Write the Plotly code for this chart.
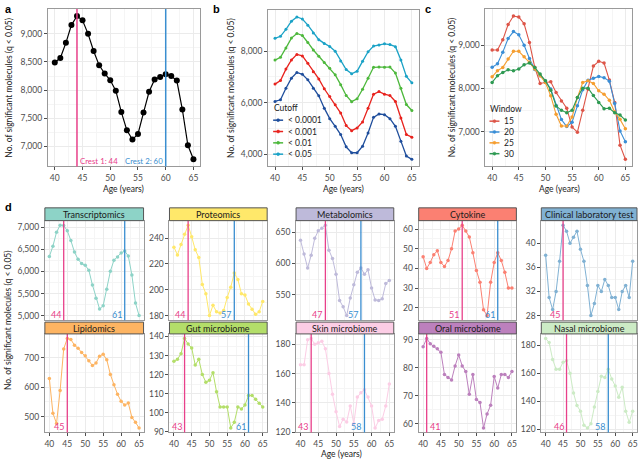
import plotly.graph_objects as go

W, H = 640, 464
FONT = "Lato"

AGES = list(range(40, 66))

# Panel a (q < 0.05, window 20)
SIG_Q005 = [8490, 8570, 8840, 9155, 9316, 9240, 9000, 8695, 8440, 8295, 8175, 7990, 7610,
            7285, 7120, 7220, 7600, 7970, 8190, 8235, 8280, 8250, 8170, 7655, 7020, 6770]
CRESTS_A = [44, 60]
CREST_LABELS_A = ["Crest 1: 44", "Crest 2: 60"]

# Panel b
CUTOFF_LABELS = ["< 0.0001", "< 0.001", "< 0.01", "< 0.05"]
CUT_00001 = [6050, 6115, 6560, 6950, 7170, 7100, 6885, 6565, 6270, 5790, 5385, 5090, 4770,
             4295, 4065, 4065, 4320, 4830, 5435, 5565, 5540, 5385, 5090, 4515, 3940, 3810]
CUT_0001 = [6720, 6860, 7300, 7655, 7870, 7810, 7525, 7200, 6920, 6540, 6240, 5920, 5600,
            5115, 4920, 5025, 5255, 5790, 6330, 6430, 6330, 6280, 6050, 5410, 4770, 4670]
CUT_001 = [7650, 7760, 8120, 8500, 8680, 8600, 8330, 8040, 7800, 7560, 7330, 7080, 6700,
           6280, 6040, 6150, 6520, 6950, 7370, 7380, 7370, 7380, 7150, 6560, 5930, 5700]
CUT_005 = SIG_Q005

# Panel c
WINDOW_LABELS = ["15", "20", "25", "30"]
WIN15 = [8890, 8890, 9124, 9480, 9674, 9650, 9496, 9062, 8490, 8116, 8140, 8155, 7907,
         7713, 7543, 7109, 6992, 7496, 7984, 8519, 8628, 8589, 8194, 7674, 6690, 6364]
WIN20 = SIG_Q005
WIN25 = [8271, 8411, 8488, 8682, 8860, 8860, 8736, 8605, 8450, 8295, 8140, 7830, 7403,
         7132, 7132, 7341, 7791, 8140, 8178, 8116, 7946, 7868, 7729, 7457, 7287, 7070]
WIN30 = [8140, 8295, 8372, 8434, 8411, 8450, 8550, 8589, 8488, 8333, 8178, 7961, 7597,
         7496, 7442, 7496, 7791, 8008, 8008, 7837, 7674, 7535, 7543, 7442, 7388, 7271]

# Panel d
OMICS = ["Transcriptomics", "Proteomics", "Metabolomics", "Cytokine", "Clinical laboratory test",
         "Lipidomics", "Gut microbiome", "Skin microbiome", "Oral microbiome", "Nasal microbiome"]
TRANSCRIPTOMICS = [6340, 6575, 6890, 7050, 7040, 6925, 6700, 6440, 6275, 6180, 6140, 6030, 5695,
                   5395, 5150, 5225, 5600, 6005, 6255, 6330, 6420, 6465, 6350, 5920, 5285, 5000]
PROTEOMICS = [233, 227, 235, 243, 250, 241, 231, 225, 204, 197, 180, 188, 183,
              182, 184, 194, 202, 213, 208, 197, 196, 189, 185, 181, 183, 191]
METABOLOMICS = [637, 615, 593, 613, 640, 652, 656, 661, 621, 608, 583, 541, 531,
                517, 545, 566, 586, 593, 583, 590, 561, 542, 541, 544, 568, 573]
CYTOKINE = [46, 40, 43, 47, 49, 43, 41, 44, 50, 59, 60, 62, 59,
            56, 48, 39, 33, 19, 16, 33, 43, 48, 44, 38, 30, 30]
CLINICAL = [38, 31, 29, 32, 37, 43, 42, 40, 41, 42, 39, 37, 33,
            28, 30, 33, 32, 34, 33, 31, 31, 29, 32, 33, 31, 37]
LIPIDOMICS = [630, 511, 476, 589, 731, 767, 763, 744, 733, 719, 708, 691, 674,
              683, 706, 713, 694, 644, 609, 576, 552, 539, 546, 497, 480, 461]
GUT = [127, 128, 131, 139, 136, 134, 125, 128, 120, 116, 117, 121, 111,
       103, 103, 103, 92, 95, 103, 102, 104, 109, 109, 107, 105, 103]
SKIN = [166, 166, 183, 184, 180, 181, 182, 177, 160, 146, 134, 124, 129,
        127, 138, 126, 144, 147, 149, 144, 138, 123, 128, 129, 138, 153]
ORAL = [87.5, 90.5, 88.6, 87.7, 86.8, 85.6, 77.6, 76.6, 75.7, 80.7, 84.6, 80.7, 78.7,
        70.6, 77.6, 68.7, 67.7, 58.6, 63.6, 66.7, 76.9, 72.8, 77.6, 77.6, 76.6, 78.7]
NASAL = [185, 182, 170, 163, 163, 168, 169, 160, 146, 137, 133, 123, 121,
         124, 136, 147, 158, 157, 163, 156, 151, 143, 150, 133, 125, 133]
OMICS_VALUES = [TRANSCRIPTOMICS, PROTEOMICS, METABOLOMICS, CYTOKINE, CLINICAL,
                LIPIDOMICS, GUT, SKIN, ORAL, NASAL]
CREST1_D = [44, 44, 47, 51, 45, 45, 43, 43, 41, 46]
CREST2_D = [61, 57, 57, 61, None, None, 61, 58, None, 58]
YTICKS_D = [[5000, 5500, 6000, 6500, 7000], [180, 200, 220, 240], [550, 600, 650],
            [20, 30, 40, 50, 60], [28, 32, 36, 40], [500, 600, 700],
            [90, 100, 110, 120, 130, 140], [120, 140, 160, 180], [60, 70, 80, 90],
            [120, 140, 160, 180]]
X_TICKS = [40, 45, 50, 55, 60, 65]

# ---------------- styles ----------------
OMICS_COLORS = ["#8DD3C7", "#FFE86A", "#BEBADA", "#FB8072", "#80B1D3",
                "#FDB462", "#B3DE69", "#FCCDE5", "#BC80BD", "#CCEBC5"]
CREST1_ANCHOR = ["right"] * 8 + ["left", "right"]
CUT_COLORS = ["#1F4E9C", "#E8231E", "#4DB83C", "#1BA2C6"]
WIN_COLORS = ["#DD5548", "#3A8ED6", "#F59E30", "#2E9A52"]
PINK = "#E8408A"
BLUE = "#3A8ED0"
TICK_COL = "#4D4D4D"
FRAME_COL = "#9A9A9A"
GRID_COL = "#EBEBEB"
YTITLE = "No. of significant molecules (q < 0.05)"


def px_x(p):
    return p / W


def px_y(p):
    return 1 - p / H


def expand(vals, frac=0.05):
    lo, hi = min(vals), max(vals)
    pad = (hi - lo) * frac
    return [lo - pad, hi + pad]


def mids(ticks):
    return [(a + b) / 2 for a, b in zip(ticks[:-1], ticks[1:])]


fig = go.Figure()
layout = {}
shapes = []
annotations = []


def sfx(n):
    return "" if n == 1 else str(n)


def add_axes(n, xpx, ypx, yvals, yticks, yfmt, show_x=True, fsize=8):
    s = sfx(n)
    layout["xaxis" + s] = dict(
        domain=[px_x(xpx[0]), px_x(xpx[1])], anchor="y" + s, range=expand(AGES),
        tickmode="array", tickvals=X_TICKS, showticklabels=show_x,
        ticks="outside" if show_x else "", ticklen=3, tickwidth=0.8, tickcolor=TICK_COL,
        tickfont=dict(size=fsize, color=TICK_COL, family=FONT),
        showline=True, mirror=True, linecolor=FRAME_COL, linewidth=1,
        showgrid=True, gridcolor=GRID_COL, gridwidth=0.8, zeroline=False,
        minor=dict(tickvals=mids(X_TICKS), showgrid=True, gridcolor="#F5F5F5", gridwidth=0.5),
    )
    layout["yaxis" + s] = dict(
        domain=[px_y(ypx[1]), px_y(ypx[0])], anchor="x" + s, range=expand(yvals),
        tickmode="array", tickvals=yticks, tickformat=yfmt,
        ticks="outside", ticklen=3, tickwidth=0.8, tickcolor=TICK_COL,
        tickfont=dict(size=fsize, color=TICK_COL, family=FONT),
        showline=True, mirror=True, linecolor=FRAME_COL, linewidth=1,
        showgrid=True, gridcolor=GRID_COL, gridwidth=0.8, zeroline=False,
        minor=dict(tickvals=mids(yticks), showgrid=True, gridcolor="#F5F5F5", gridwidth=0.5),
    )


def crest_line(n, x, color, width=1.5):
    s = sfx(n)
    shapes.append(dict(type="line", xref="x" + s, yref="y" + s + " domain",
                       x0=x, x1=x, y0=0, y1=1, layer="above",
                       line=dict(color=color, width=width)))


def crest_text(n, x, text, color, anchor, size=8):
    s = sfx(n)
    annotations.append(dict(x=x, y=0, xref="x" + s, yref="y" + s + " domain",
                            text=text, showarrow=False, xanchor=anchor, yanchor="bottom",
                            xshift=-1 if anchor == "right" else 1, yshift=-2,
                            font=dict(size=size, color=color, family=FONT)))


# ---------------- panel a ----------------
add_axes(1, (47, 200), (7, 167), SIG_Q005, [7000, 7500, 8000, 8500, 9000], ",d", fsize=8.5)
for c, lab, col, anc in zip(CRESTS_A, CREST_LABELS_A, [PINK, BLUE], ["left", "right"]):
    crest_line(1, c, col)
    crest_text(1, c, lab, col, anc, size=7.8)
fig.add_trace(go.Scatter(x=AGES, y=SIG_Q005, mode="lines+markers", xaxis="x", yaxis="y",
                         line=dict(color="black", width=1.2),
                         marker=dict(color="black", size=6), showlegend=False))

# ---------------- panel b ----------------
add_axes(2, (268, 419), (8, 167), CUT_00001 + CUT_005, [4000, 6000, 8000], ",d", fsize=8.5)
for vals, col, lab in zip([CUT_00001, CUT_0001, CUT_001, CUT_005], CUT_COLORS, CUTOFF_LABELS):
    fig.add_trace(go.Scatter(x=AGES, y=vals, mode="lines+markers", xaxis="x2", yaxis="y2",
                             line=dict(color=col, width=1.3), marker=dict(color=col, size=3),
                             name=lab, showlegend=False))

# ---------------- panel c ----------------
add_axes(3, (486, 633), (7, 167), WIN15 + WIN30, [7000, 8000, 9000], ",d", fsize=8.5)
for vals, col, lab in zip([WIN15, WIN20, WIN25, WIN30], WIN_COLORS, WINDOW_LABELS):
    fig.add_trace(go.Scatter(x=AGES, y=vals, mode="lines+markers", xaxis="x3", yaxis="y3",
                             line=dict(color=col, width=1.1), marker=dict(color=col, size=3.5),
                             name=lab, showlegend=False))


# manual compact legends (panel b and c)
def legend_block(x0, y_title, dy, title, labels, colors):
    annotations.append(dict(x=px_x(x0), y=px_y(y_title), xref="paper", yref="paper",
                            text=title, showarrow=False, xanchor="left", yanchor="middle",
                            font=dict(size=8.5, color="#222", family=FONT)))
    for i, (lab, col) in enumerate(zip(labels, colors)):
        yc = y_title + 12 + i * dy
        shapes.append(dict(type="line", xref="paper", yref="paper",
                           x0=px_x(x0 + 1), x1=px_x(x0 + 11), y0=px_y(yc), y1=px_y(yc),
                           line=dict(color=col, width=1.5)))
        shapes.append(dict(type="circle", xref="paper", yref="paper",
                           x0=px_x(x0 + 4.5), x1=px_x(x0 + 7.5), y0=px_y(yc + 1.5), y1=px_y(yc - 1.5),
                           fillcolor=col, line=dict(color=col, width=0.5)))
        annotations.append(dict(x=px_x(x0 + 14), y=px_y(yc), xref="paper", yref="paper",
                                text=lab, showarrow=False, xanchor="left", yanchor="middle",
                                font=dict(size=8.5, color="#222", family=FONT)))


legend_block(272, 108, 11.5, "Cutoff", CUTOFF_LABELS, CUT_COLORS)
legend_block(489, 109, 11, "Window", WINDOW_LABELS, WIN_COLORS)

# ---------------- panel d ----------------
COLS = [(44, 143), (169, 267), (296, 394), (419, 517), (542, 638)]
ROWS = [((209, 222), (222, 323)), ((325, 337), (337, 437))]
for i, (name, vals) in enumerate(zip(OMICS, OMICS_VALUES)):
    n = 4 + i
    r, c = divmod(i, 5)
    xpx = COLS[c]
    strip, ppx = ROWS[r]
    fmt = ",d" if max(vals) >= 1000 else "d"
    add_axes(n, xpx, ppx, vals, YTICKS_D[i], fmt, show_x=(r == 1), fsize=8.5)
    s = sfx(n)
    crest_line(n, CREST1_D[i], PINK, 1.3)
    crest_text(n, CREST1_D[i], str(CREST1_D[i]), PINK, CREST1_ANCHOR[i], size=9)
    if CREST2_D[i] is not None:
        crest_line(n, CREST2_D[i], BLUE, 1.3)
        crest_text(n, CREST2_D[i], str(CREST2_D[i]), BLUE, "right", size=9)
    fig.add_trace(go.Scatter(x=AGES, y=vals, mode="lines+markers", xaxis="x" + s, yaxis="y" + s,
                             line=dict(color=OMICS_COLORS[i], width=1),
                             marker=dict(color=OMICS_COLORS[i], size=3.5),
                             name=name, showlegend=False))
    shapes.append(dict(type="rect", xref="paper", yref="paper",
                       x0=px_x(xpx[0]), x1=px_x(xpx[1]), y0=px_y(strip[1]), y1=px_y(strip[0]),
                       fillcolor=OMICS_COLORS[i], line=dict(color="#555555", width=1)))
    annotations.append(dict(x=px_x((xpx[0] + xpx[1]) / 2), y=px_y((strip[0] + strip[1]) / 2),
                            xref="paper", yref="paper", text=name, showarrow=False,
                            xanchor="center", yanchor="middle",
                            font=dict(size=9, color="#1A1A1A", family=FONT)))

# ---------------- titles & panel letters ----------------
for xc, yc in [(8, 87), (230, 87), (452, 87), (7, 323)]:
    annotations.append(dict(x=px_x(xc), y=px_y(yc), xref="paper", yref="paper", text=YTITLE,
                            showarrow=False, textangle=-90, xanchor="center", yanchor="middle",
                            font=dict(size=8.5, color="#222", family=FONT)))
for xc, yc in [(123, 190), (344, 190), (560, 190), (342, 459)]:
    annotations.append(dict(x=px_x(xc), y=px_y(yc), xref="paper", yref="paper", text="Age (years)",
                            showarrow=False, xanchor="center", yanchor="middle",
                            font=dict(size=8.5, color="#222", family=FONT)))
for lab, xc, yc in [("a", 2, 7), ("b", 211, 7), ("c", 423, 7), ("d", 2, 208)]:
    annotations.append(dict(x=px_x(xc), y=px_y(yc), xref="paper", yref="paper",
                            text="<b>" + lab + "</b>", showarrow=False,
                            xanchor="left", yanchor="middle",
                            font=dict(size=11, color="black", family="Liberation Sans")))

fig.update_layout(
    width=W, height=H, margin=dict(l=0, r=0, t=0, b=0),
    paper_bgcolor="white", plot_bgcolor="white",
    font=dict(family=FONT, size=8, color="#222"),
    shapes=shapes, annotations=annotations, showlegend=False, hovermode=False,
    **layout,
)

fig.write_html("out.html", config={"displayModeBar": False},
               post_script="document.body.style.margin='0';")
